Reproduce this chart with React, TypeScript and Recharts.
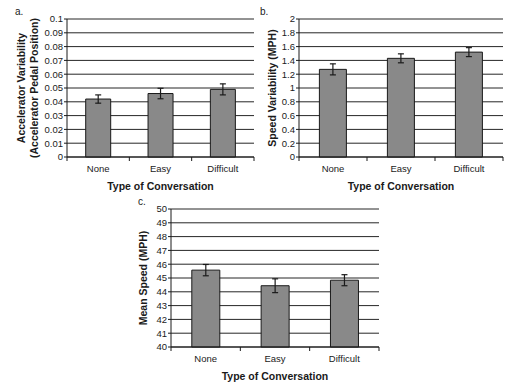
import React from 'react';
import { BarChart, Bar, XAxis, YAxis, CartesianGrid, ErrorBar, Label } from 'recharts';

const categories = ['None', 'Easy', 'Difficult'];

const accelValues = [0.042, 0.046, 0.049];
const accelErrors = [0.003, 0.0038, 0.004];
const accelTicks = [0, 0.01, 0.02, 0.03, 0.04, 0.05, 0.06, 0.07, 0.08, 0.09, 0.1];

const speedVarValues = [1.27, 1.43, 1.52];
const speedVarErrors = [0.08, 0.065, 0.065];
const speedVarTicks = [0, 0.2, 0.4, 0.6, 0.8, 1, 1.2, 1.4, 1.6, 1.8, 2];

const meanSpeedValues = [45.57, 44.44, 44.84];
const meanSpeedErrors = [0.41, 0.5, 0.4];
const meanSpeedTicks = [40, 41, 42, 43, 44, 45, 46, 47, 48, 49, 50];

const FONT = '"Liberation Sans", Arial, Helvetica, sans-serif';
const INK = '#1a1a1a';

const makeTick = (band: number) => (props: any) => {
  const { x, y, payload, index } = props;
  return (
    <g>
      <line x1={x - band / 2} x2={x - band / 2} y1={y} y2={y + 4} stroke={INK} />
      {index === categories.length - 1 && (
        <line x1={x + band / 2} x2={x + band / 2} y1={y} y2={y + 4} stroke={INK} />
      )}
      <text x={x} y={y + 14.5} textAnchor="middle" fontSize={9.5} fill={INK} fontFamily={FONT}>
        {payload.value}
      </text>
    </g>
  );
};

const yLabel = (lines: string[], xs: number[]) => (props: any) => {
  const vb = props.viewBox || {};
  const cy = vb.y + vb.height / 2;
  return (
    <g>
      {lines.map((l, i) => (
        <text
          key={l}
          x={xs[i]}
          y={cy}
          transform={`rotate(-90, ${xs[i]}, ${cy})`}
          textAnchor="middle"
          dominantBaseline="central"
          fontSize={10.5}
          fontWeight="bold"
          fill={INK}
          fontFamily={FONT}
        >
          {l}
        </text>
      ))}
    </g>
  );
};

interface PanelProps {
  left: number;
  top: number;
  width: number;
  axisWidth: number;
  values: number[];
  errors: number[];
  ticks: number[];
  tag: string;
  tagX: number;
  labelLines: string[];
  labelXs: number[];
}

function Panel(p: PanelProps) {
  const height = 200;
  const plotWidth = p.width - p.axisWidth - 2;
  const band = plotWidth / categories.length;
  const data = categories.map((c, i) => ({ name: c, value: p.values[i], err: p.errors[i] }));
  return (
    <div style={{ position: 'absolute', left: p.left, top: p.top, width: p.width, height }}>
      <div style={{ position: 'absolute', left: p.tagX, top: 6, fontSize: 10, color: INK, fontFamily: FONT }}>
        {p.tag}
      </div>
      <BarChart
        width={p.width}
        height={height}
        data={data}
        margin={{ top: 19, right: 2, left: 0, bottom: 0 }}
        barCategoryGap="30%"
      >
        <CartesianGrid vertical={false} stroke="#262626" strokeWidth={1} />
        <XAxis
          dataKey="name"
          height={43}
          tickSize={0}
          tickMargin={0}
          tickLine={false}
          axisLine={{ stroke: INK }}
          tick={makeTick(band)}
          interval={0}
        >
          <Label
            value="Type of Conversation"
            position="insideBottom"
            offset={10}
            style={{ fontSize: 10.5, fontWeight: 'bold', fill: INK, fontFamily: FONT }}
          />
        </XAxis>
        <YAxis
          width={p.axisWidth}
          domain={[p.ticks[0], p.ticks[p.ticks.length - 1]]}
          ticks={p.ticks}
          interval={0}
          tickSize={3}
          tickMargin={1}
          axisLine={{ stroke: INK }}
          tickLine={{ stroke: INK }}
          tick={{ fontSize: 9.5, fill: INK, fontFamily: FONT }}
        >
          <Label content={yLabel(p.labelLines, p.labelXs)} />
        </YAxis>
        <YAxis yAxisId="right" orientation="right" width={0} tick={false} tickLine={false} axisLine={{ stroke: INK }} />
        <Bar dataKey="value" fill="#898989" stroke={INK} strokeWidth={1} isAnimationActive={false}>
          <ErrorBar dataKey="err" width={3} stroke={INK} strokeWidth={1.2} isAnimationActive={false} />
        </Bar>
      </BarChart>
    </div>
  );
}

export default function App() {
  return (
    <div
      style={{
        position: 'absolute',
        left: 0,
        top: 0,
        width: 523,
        height: 390,
        background: '#fff',
        fontFamily: FONT,
      }}
    >
      <Panel
        left={0}
        top={0}
        width={256}
        axisWidth={67}
        values={accelValues}
        errors={accelErrors}
        ticks={accelTicks}
        tag="a."
        tagX={15}
        labelLines={['Accelerator Variability', '(Accelerator Pedal Position)']}
        labelXs={[21, 34]}
      />
      <Panel
        left={260}
        top={0}
        width={245}
        axisWidth={39}
        values={speedVarValues}
        errors={speedVarErrors}
        ticks={speedVarTicks}
        tag="b."
        tagX={0}
        labelLines={['Speed Variability (MPH)']}
        labelXs={[12]}
      />
      <Panel
        left={130}
        top={190}
        width={251}
        axisWidth={41}
        values={meanSpeedValues}
        errors={meanSpeedErrors}
        ticks={meanSpeedTicks}
        tag="c."
        tagX={8}
        labelLines={['Mean Speed (MPH)']}
        labelXs={[13]}
      />
    </div>
  );
}
